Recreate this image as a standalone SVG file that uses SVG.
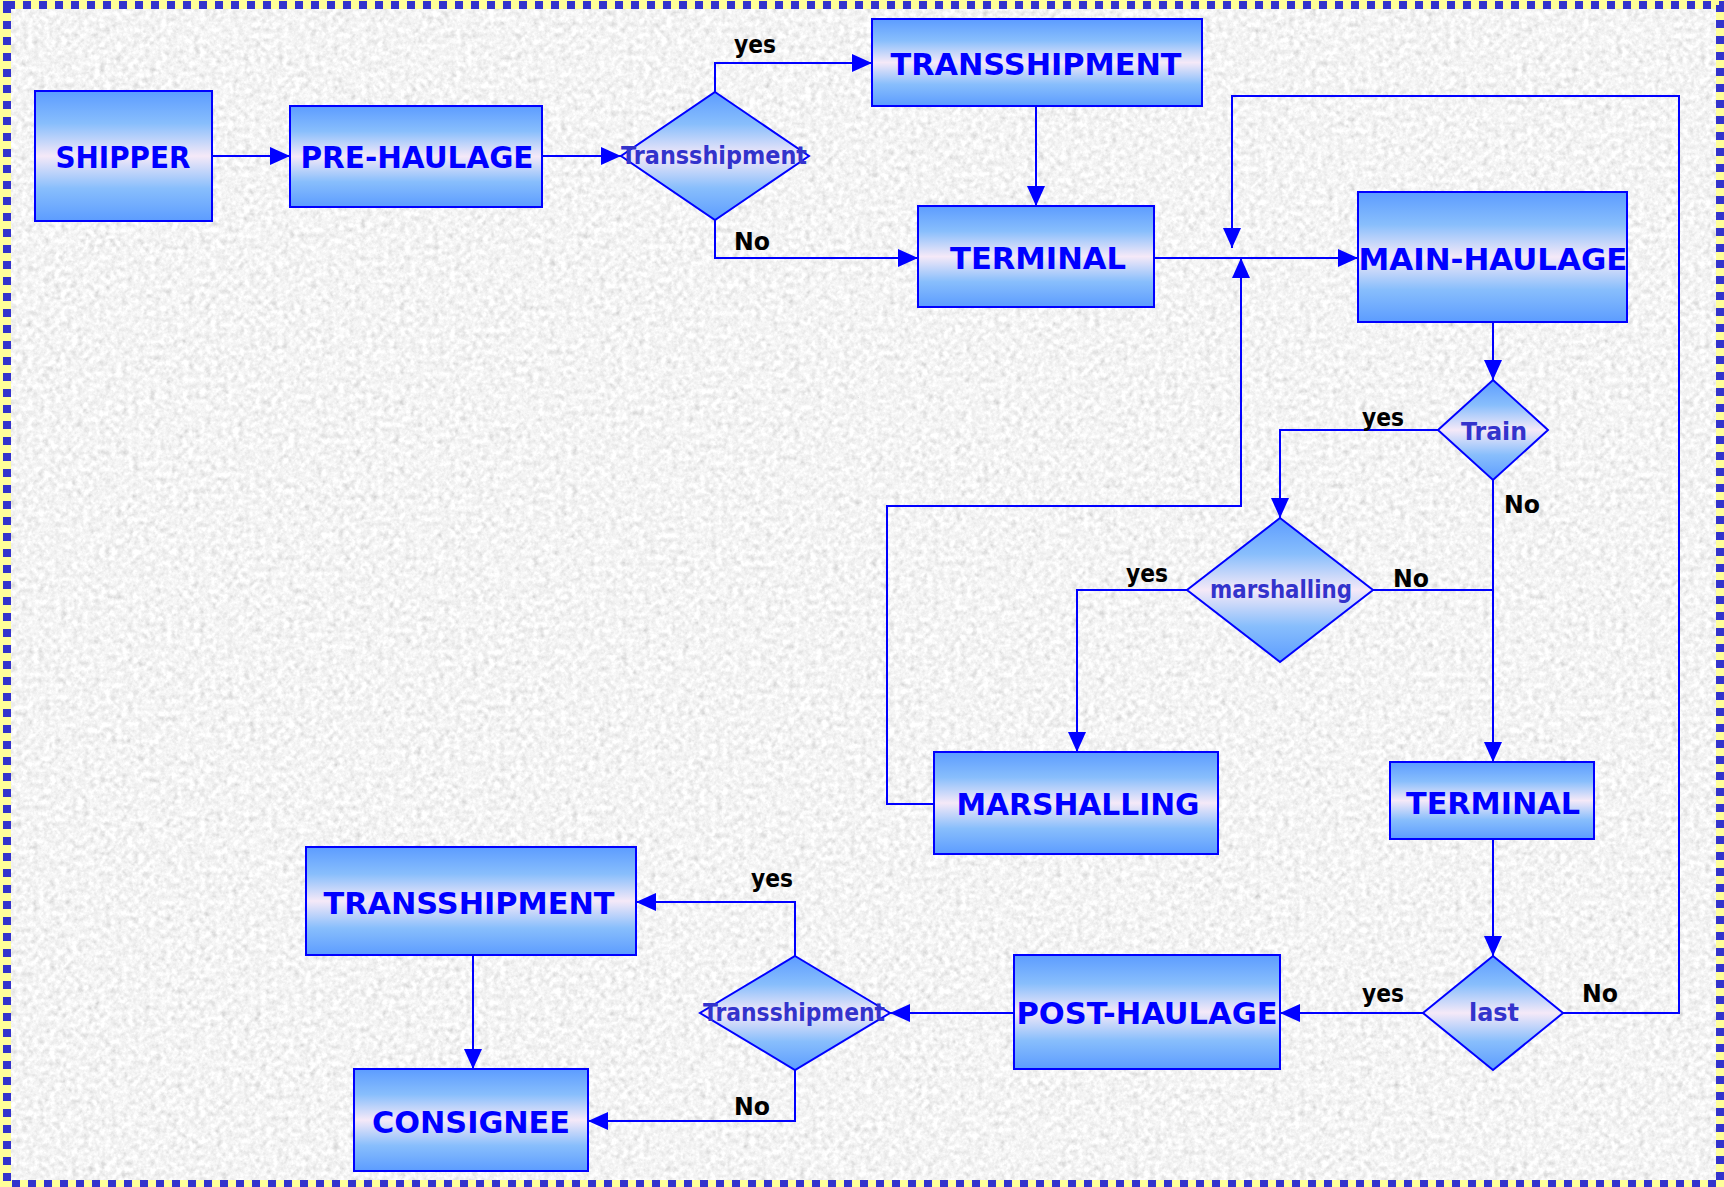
<svg xmlns="http://www.w3.org/2000/svg" width="1724" height="1187" viewBox="0 0 1724 1187">
<defs>
<linearGradient id="g" x1="0" y1="0" x2="0" y2="1">
<stop offset="0" stop-color="#5c9cff"/>
<stop offset="0.25" stop-color="#88befc"/>
<stop offset="0.5" stop-color="#f5e9f8"/>
<stop offset="0.75" stop-color="#88befc"/>
<stop offset="1" stop-color="#5c9cff"/>
</linearGradient>
<filter id="tex" x="0" y="0" width="100%" height="100%">
<feTurbulence type="fractalNoise" baseFrequency="0.18" numOctaves="4" seed="7" result="n"/>
<feColorMatrix in="n" type="matrix" values="0.33 0.33 0.33 0 0 0.33 0.33 0.33 0 0 0.33 0.33 0.33 0 0 0 0 0 0 1"/>
<feComponentTransfer>
<feFuncR type="linear" slope="0.9" intercept="0.46"/>
<feFuncG type="linear" slope="0.9" intercept="0.46"/>
<feFuncB type="linear" slope="0.9" intercept="0.46"/>
</feComponentTransfer>
</filter>
<marker id="arr" markerUnits="userSpaceOnUse" markerWidth="20" markerHeight="18" refX="20" refY="9" orient="auto">
<path d="M0,0 L20,9 L0,18 z" fill="#0000ff"/>
</marker>
</defs>
<style>
.box{fill:url(#g);stroke:#0000ff;stroke-width:2}
.dia{fill:url(#g);stroke:#0000ff;stroke-width:2}
.bt{font-family:"DejaVu Sans",sans-serif;font-weight:bold;font-size:30px;fill:#0000ff;text-anchor:middle}
.dt{font-family:"DejaVu Sans",sans-serif;font-weight:bold;font-size:24px;fill:#3333cc;text-anchor:middle}
.lb{font-family:"DejaVu Sans",sans-serif;font-weight:bold;font-size:24px;fill:#000000}
.c path{fill:none;stroke:#0000ff;stroke-width:2}
.c .a{marker-end:url(#arr)}
</style>
<rect x="0" y="0" width="1724" height="1187" fill="#ffff99"/>
<rect x="11" y="9" width="1705" height="1171" filter="url(#tex)"/>
<rect x="7" y="5" width="1713" height="1179" fill="none" stroke="#3333cc" stroke-width="8" stroke-dasharray="8 8"/>

<g class="c" id="connectors">
<path class="a" d="M212,156 L290,156"/>
<path class="a" d="M542,156 L621,156"/>
<path class="a" d="M715,92 L715,63 L872,63"/>
<path class="a" d="M715,220 L715,258 L918,258"/>
<path class="a" d="M1036,106 L1036,206"/>
<path class="a" d="M1154,258 L1358,258"/>
<path class="a" d="M1562,1013 L1679,1013 L1679,96 L1232,96 L1232,248"/>
<path class="a" d="M934,804 L887,804 L887,506 L1241,506 L1241,258"/>
<path class="a" d="M1493,322 L1493,380"/>
<path class="a" d="M1438,430 L1280,430 L1280,518"/>
<path class="a" d="M1493,480 L1493,762"/>
<path d="M1373,590 L1493,590"/>
<path class="a" d="M1187,590 L1077,590 L1077,752"/>
<path class="a" d="M1493,839 L1493,956"/>
<path class="a" d="M1423,1013 L1280,1013"/>
<path class="a" d="M1014,1013 L890,1013"/>
<path class="a" d="M795,956 L795,902 L636,902"/>
<path class="a" d="M795,1070 L795,1121 L588,1121"/>
<path class="a" d="M473,955 L473,1069"/>
</g>

<g id="shipper"><rect class="box" x="35" y="91" width="177" height="130"/><text class="bt" x="123" y="168" textLength="135" lengthAdjust="spacingAndGlyphs">SHIPPER</text></g>
<g id="pre-haulage"><rect class="box" x="290" y="106" width="252" height="101"/><text class="bt" x="417" y="168" textLength="233" lengthAdjust="spacingAndGlyphs">PRE-HAULAGE</text></g>
<g id="transshipment-1"><rect class="box" x="872" y="19" width="330" height="87"/><text class="bt" x="1036" y="75" textLength="291" lengthAdjust="spacingAndGlyphs">TRANSSHIPMENT</text></g>
<g id="terminal-1"><rect class="box" x="918" y="206" width="236" height="101"/><text class="bt" x="1038" y="269" textLength="176" lengthAdjust="spacingAndGlyphs">TERMINAL</text></g>
<g id="main-haulage"><rect class="box" x="1358" y="192" width="269" height="130"/><text class="bt" x="1493" y="270" textLength="269" lengthAdjust="spacingAndGlyphs">MAIN-HAULAGE</text></g>
<g id="terminal-2"><rect class="box" x="1390" y="762" width="204" height="77"/><text class="bt" x="1493" y="814" textLength="174" lengthAdjust="spacingAndGlyphs">TERMINAL</text></g>
<g id="marshalling-box"><rect class="box" x="934" y="752" width="284" height="102"/><text class="bt" x="1078" y="815" textLength="243" lengthAdjust="spacingAndGlyphs">MARSHALLING</text></g>
<g id="post-haulage"><rect class="box" x="1014" y="955" width="266" height="114"/><text class="bt" x="1147" y="1024" textLength="261" lengthAdjust="spacingAndGlyphs">POST-HAULAGE</text></g>
<g id="transshipment-2"><rect class="box" x="306" y="847" width="330" height="108"/><text class="bt" x="469" y="914" textLength="291" lengthAdjust="spacingAndGlyphs">TRANSSHIPMENT</text></g>
<g id="consignee"><rect class="box" x="354" y="1069" width="234" height="102"/><text class="bt" x="471" y="1133" textLength="198" lengthAdjust="spacingAndGlyphs">CONSIGNEE</text></g>

<g id="decision-transshipment-1"><polygon class="dia" points="715,92 809,156 715,220 621,156"/><text class="dt" x="714" y="164" textLength="186" lengthAdjust="spacingAndGlyphs">Transshipment</text></g>
<g id="decision-train"><polygon class="dia" points="1493,380 1548,430 1493,480 1438,430"/><text class="dt" x="1494" y="440" textLength="66" lengthAdjust="spacingAndGlyphs">Train</text></g>
<g id="decision-marshalling"><polygon class="dia" points="1280,518 1373,590 1280,662 1187,590"/><text class="dt" x="1281" y="598" textLength="142" lengthAdjust="spacingAndGlyphs">marshalling</text></g>
<g id="decision-last"><polygon class="dia" points="1493,956 1563,1013 1493,1070 1423,1013"/><text class="dt" x="1494" y="1021" textLength="50" lengthAdjust="spacingAndGlyphs">last</text></g>
<g id="decision-transshipment-2"><polygon class="dia" points="795,956 890,1013 795,1070 700,1013"/><text class="dt" x="794" y="1021" textLength="182" lengthAdjust="spacingAndGlyphs">Transshipment</text></g>

<g id="labels">
<text class="lb" x="734" y="53" textLength="42" lengthAdjust="spacingAndGlyphs">yes</text>
<text class="lb" x="734" y="250" textLength="36" lengthAdjust="spacingAndGlyphs">No</text>
<text class="lb" x="1362" y="426" textLength="42" lengthAdjust="spacingAndGlyphs">yes</text>
<text class="lb" x="1504" y="513" textLength="36" lengthAdjust="spacingAndGlyphs">No</text>
<text class="lb" x="1126" y="582" textLength="42" lengthAdjust="spacingAndGlyphs">yes</text>
<text class="lb" x="1393" y="587" textLength="36" lengthAdjust="spacingAndGlyphs">No</text>
<text class="lb" x="751" y="887" textLength="42" lengthAdjust="spacingAndGlyphs">yes</text>
<text class="lb" x="734" y="1115" textLength="36" lengthAdjust="spacingAndGlyphs">No</text>
<text class="lb" x="1362" y="1002" textLength="42" lengthAdjust="spacingAndGlyphs">yes</text>
<text class="lb" x="1582" y="1002" textLength="36" lengthAdjust="spacingAndGlyphs">No</text>
</g>
</svg>
